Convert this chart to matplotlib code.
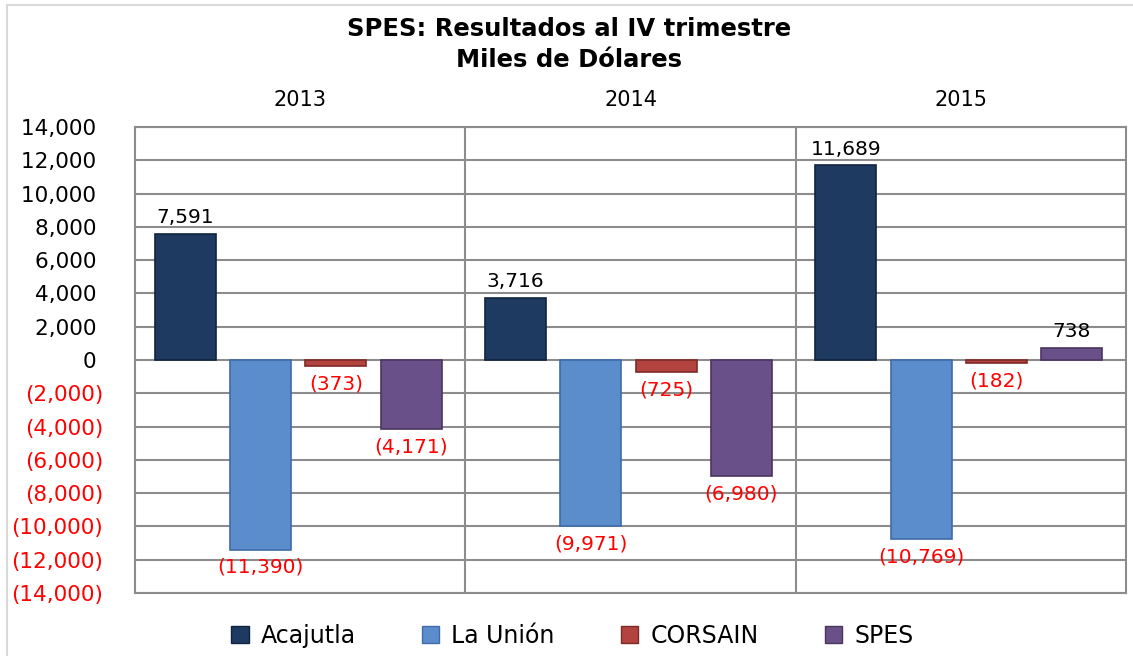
import matplotlib.pyplot as plt
from matplotlib.lines import Line2D
from matplotlib.patches import Patch
import numpy as np

# data (miles de dolares)
years = ["2013", "2014", "2015"]
series = ["Acajutla", "La Unión", "CORSAIN", "SPES"]
acajutla = [7591, 3716, 11689]
la_union = [-11390, -9971, -10769]
corsain = [-373, -725, -182]
spes = [-4171, -6980, 738]
yticks = list(range(-14000, 14001, 2000))

colors = ["#1E3A60", "#5B8CCB", "#B2433F", "#6A5088"]
edges = ["#12243D", "#3E6CA8", "#7E2A28", "#4A355F"]


def fmt(v):
    if v < 0:
        return "({:,})".format(-v)
    return "{:,} ".format(v)


fig = plt.figure(figsize=(11.33, 6.56), dpi=100)
ax = fig.add_axes([135 / 1133, 1 - 593 / 656, 991 / 1133, 466 / 656])

values = [acajutla, la_union, corsain, spes]
x = np.arange(len(years))
width = 0.185
for i, (name, vals) in enumerate(zip(series, values)):
    pos = x + 0.152 + 0.228 * i
    ax.bar(pos, vals, width, color=colors[i], edgecolor=edges[i],
           linewidth=1.2, zorder=3, label=name)
    for xp, v in zip(pos, vals):
        if v >= 0:
            ax.annotate(fmt(v).strip(), (xp, v), xytext=(0, 5),
                        textcoords="offset points", ha="center", va="bottom",
                        fontsize=14.5, color="black")
        else:
            ax.annotate(fmt(v), (xp, v), xytext=(0, -6),
                        textcoords="offset points", ha="center", va="top",
                        fontsize=14.5, color="red")

ax.set_xlim(0, 3)
ax.set_ylim(-14000, 14000)
ax.set_yticks(yticks)
ax.set_yticklabels([fmt(v) for v in yticks])
for lab, v in zip(ax.get_yticklabels(), yticks):
    lab.set_color("red" if v < 0 else "black")
ax.tick_params(axis="y", length=0, pad=23, labelsize=15.5)

# year labels on top
ax.xaxis.tick_top()
ax.set_xticks(x + 0.5)
ax.set_xticklabels(years)
ax.tick_params(axis="x", length=0, pad=12, labelsize=15)

ax.grid(True, axis="y", color="#8C8C8C", linewidth=1.5, zorder=0)
for sep in [1, 2]:
    ax.axvline(sep, color="#8C8C8C", linewidth=1.5, zorder=0)
for s in ax.spines.values():
    s.set_color("#8C8C8C")
    s.set_linewidth(1.5)

fig.text(0.502, 1 - 29 / 656, "SPES: Resultados al IV trimestre",
         ha="center", va="center", fontsize=17.5, fontweight="bold")
fig.text(0.502, 1 - 60 / 656, "Miles de Dólares",
         ha="center", va="center", fontsize=17.5, fontweight="bold")

handles = [Patch(facecolor=c, edgecolor=e) for c, e in zip(colors, edges)]
fig.legend(handles, series, loc="center", bbox_to_anchor=(0.505, 1 - 636 / 656),
           ncol=4, frameon=False, fontsize=17, handlelength=0.75,
           handleheight=0.75, columnspacing=2.8, handletextpad=0.5)

# outer chart border
fig.add_artist(Line2D([7 / 1133, 7 / 1133], [0, 1 - 5 / 656], color="#D9D9D9", lw=1.5))
fig.add_artist(Line2D([7 / 1133, 1], [1 - 5 / 656, 1 - 5 / 656], color="#D9D9D9", lw=1.5))

fig.savefig("out.png", dpi=100)
